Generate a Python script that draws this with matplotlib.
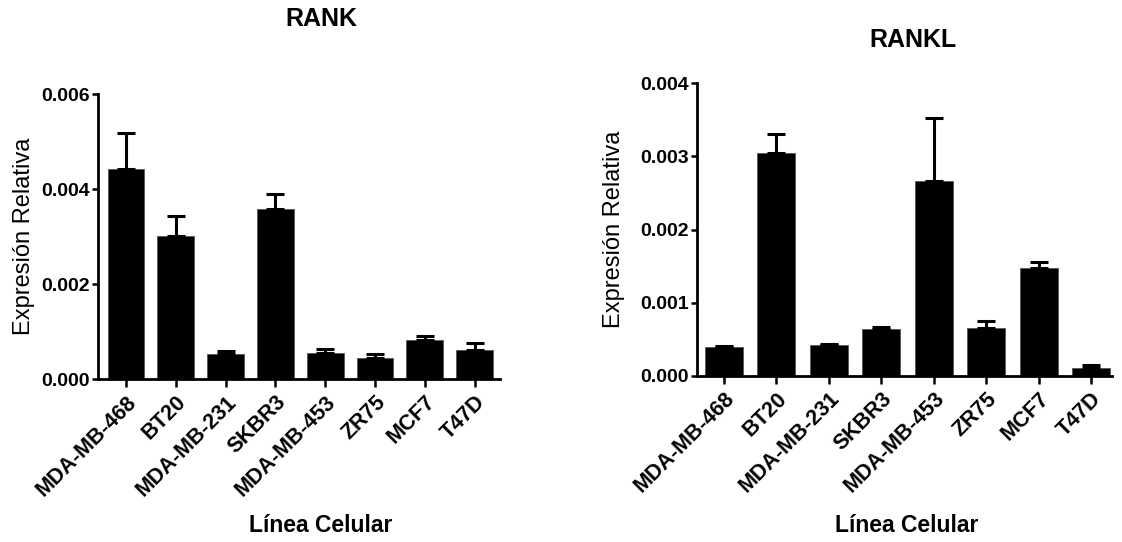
import matplotlib
matplotlib.use("Agg")
import matplotlib.pyplot as plt
import numpy as np

plt.rcParams['font.family'] = ['Liberation Sans', 'DejaVu Sans']

categories = ["MDA-MB-468", "BT20", "MDA-MB-231", "SKBR3", "MDA-MB-453", "ZR75", "MCF7", "T47D"]

rank_mean = [0.00442, 0.00301, 0.00053, 0.00358, 0.00054, 0.00044, 0.00082, 0.00062]
rank_upper = [0.00518, 0.00344, 0.00060, 0.00389, 0.00064, 0.00052, 0.00091, 0.00075]

rankl_mean = [0.000388, 0.00305, 0.00042, 0.000634, 0.002668, 0.000657, 0.001473, 0.000109]
rankl_upper = [0.000400, 0.00331, 0.000433, 0.00066, 0.00352, 0.000753, 0.00155, 0.000146]

W, H = 1122, 542
fig = plt.figure(figsize=(W / 100, H / 100), dpi=100)


def px_axes(x0, x1, ytop, ybot):
    return fig.add_axes([x0 / W, 1 - ybot / H, (x1 - x0) / W, (ybot - ytop) / H])


def draw(ax, means, uppers, ymax, yticks, xlim, bw):
    x = np.arange(len(categories))
    means = np.array(means)
    err = np.array(uppers) - means
    ax.bar(x, means, width=bw, color='black', edgecolor='#555555', linewidth=0.6, zorder=2)
    ax.errorbar(x, means, yerr=[np.zeros_like(err), err], fmt='none', ecolor='black',
                elinewidth=2.2, capsize=6.5, capthick=2.2, zorder=3)
    ax.set_xlim(*xlim)
    ax.set_ylim(0, ymax)
    ax.set_yticks(yticks)
    ax.set_yticklabels([f"{v:.3f}" for v in yticks], fontsize=14, fontweight='bold')
    ax.set_xticks(x)
    ax.set_xticklabels(categories, rotation=45, ha='right', va='top', rotation_mode='anchor',
                       fontsize=15.5, fontweight='bold')
    for s in ['top', 'right']:
        ax.spines[s].set_visible(False)
    for s in ['left', 'bottom']:
        ax.spines[s].set_linewidth(2)
    ax.tick_params(axis='y', length=4, width=1.8, pad=2)
    ax.tick_params(axis='x', length=6, width=1.8, pad=3)


ax1 = px_axes(98, 500, 94.3, 379)
draw(ax1, rank_mean, rank_upper, 0.006, [0, 0.002, 0.004, 0.006], (-0.562, 7.51), 0.74)

ax2 = px_axes(697, 1112, 83.3, 375.7)
draw(ax2, rankl_mean, rankl_upper, 0.004, [0, 0.001, 0.002, 0.003, 0.004], (-0.515, 7.40), 0.725)

fig.text(321 / W, 1 - 19.5 / H, "RANK", ha='center', va='center', fontsize=18, fontweight='bold')
fig.text(913 / W, 1 - 40 / H, "RANKL", ha='center', va='center', fontsize=18, fontweight='bold')
fig.text(321 / W, 1 - 525 / H, "Línea Celular", ha='center', va='center', fontsize=16.5, fontweight='bold')
fig.text(907 / W, 1 - 526 / H, "Línea Celular", ha='center', va='center', fontsize=16.5, fontweight='bold')
fig.text(24 / W, 1 - 236 / H, "Expresión Relativa", ha='center', va='center', rotation=90, fontsize=17)
fig.text(614 / W, 1 - 229 / H, "Expresión Relativa", ha='center', va='center', rotation=90, fontsize=17)

fig.savefig("out.png", dpi=100)
